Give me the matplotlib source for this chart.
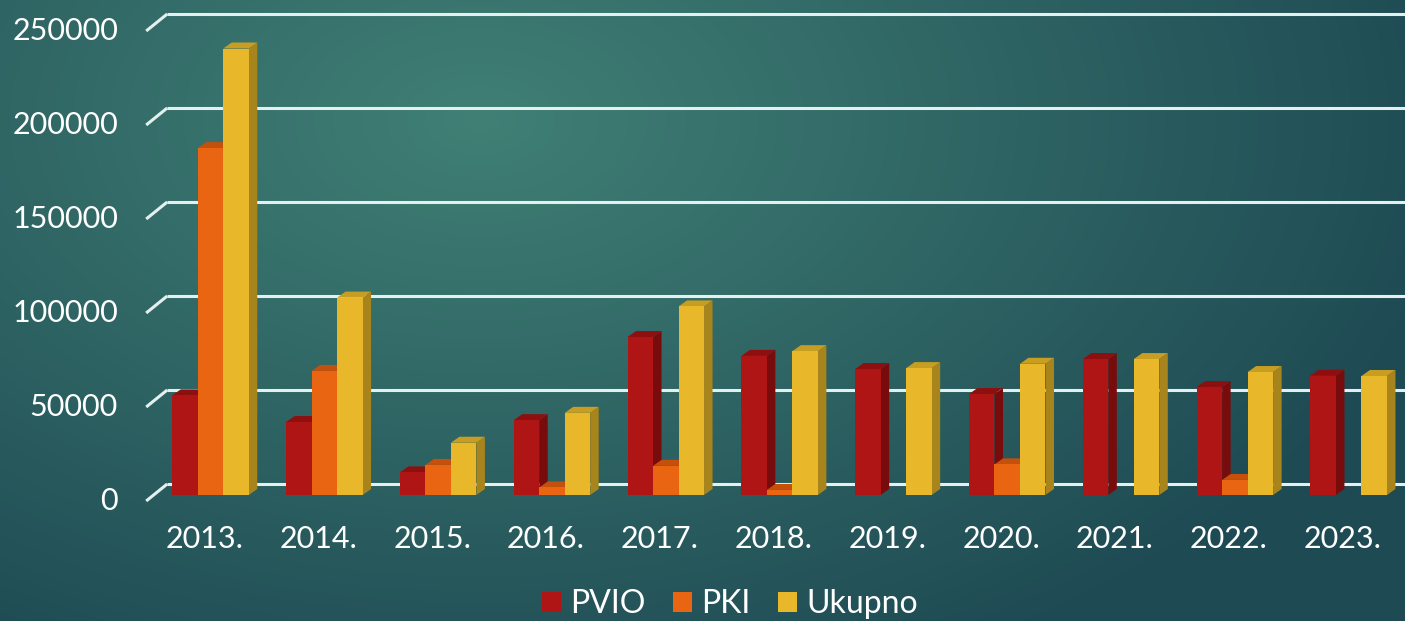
import numpy as np
import matplotlib
matplotlib.use("Agg")
import matplotlib.pyplot as plt
import matplotlib.transforms as mtransforms
from matplotlib.patches import Polygon, Patch

# ---------------- data ----------------
years = ["2013.", "2014.", "2015.", "2016.", "2017.", "2018.",
         "2019.", "2020.", "2021.", "2022.", "2023."]
pvio = [53000, 38800, 12000, 39800, 84000, 74000, 67000, 53700, 72300, 57400, 63500]
pki = [184500, 66000, 16000, 4000, 15500, 2700, 0, 16300, 0, 8000, 0]
ukupno = [237500, 105000, 27800, 43700, 100300, 76500, 67500, 69800, 72300, 65400, 63300]
series_names = ["PVIO", "PKI", "Ukupno"]
yticks = [0, 50000, 100000, 150000, 200000, 250000]

# ---------------- style ----------------
front_cols = ["#B01516", "#E96511", "#E8B72A"]
top_cols = ["#8E0F10", "#C4500C", "#C79E22"]
side_cols = ["#780C0C", "#A8440A", "#A8851C"]
txt_col = "#FFFFFF"
grid_col = "#E4F0F0"

plt.rcParams["font.family"] = ["Lato", "DejaVu Sans"]

W, H = 1405, 621
fig = plt.figure(figsize=(W / 100, H / 100), dpi=100)

# background gradient
bg = fig.add_axes([0, 0, 1, 1])
yy, xx = np.mgrid[0:H, 0:W]
d = np.sqrt(((xx - 480) / 1000.0) ** 2 + ((yy - 120) / 620.0) ** 2)
d = np.clip(d, 0, 1)
c0 = np.array([0x40, 0x80, 0x75]) / 255.0
c1 = np.array([0x1E, 0x4A, 0x53]) / 255.0
img = c0[None, None, :] * (1 - d[..., None]) + c1[None, None, :] * d[..., None]
bg.imshow(img, extent=[0, 1, 0, 1], aspect="auto", zorder=0)
bg.set_axis_off()

# main axes (bar front-face plane)
x_left_px, x_right_px = 153.6, 1405.6
y0_px, ytop_px = 495, 25
ax = fig.add_axes([x_left_px / W, (H - y0_px) / H,
                   (x_right_px - x_left_px) / W, (y0_px - ytop_px) / H])
ax.set_xlim(-0.5, 10.5)
ax.set_ylim(0, 250000)
ax.set_axis_off()
ax.patch.set_alpha(0)

ppx = (x_right_px - x_left_px) / 11.0        # pixels per x unit
ppy = (y0_px - ytop_px) / 250000.0           # pixels per y unit

# gridlines (back wall + left floor diagonal)
back_dx, back_dy = 13.6, 11.0
front_dx, front_dy = -7.4, -6.0
for v in yticks:
    xb = -0.5 + back_dx / ppx
    yb = v + back_dy / ppy
    ax.plot([xb, 11.5], [yb, yb], color=grid_col, lw=2.2, zorder=1,
            clip_on=False, solid_capstyle="butt")
    xf = -0.5 + front_dx / ppx
    yf = v + front_dy / ppy
    ax.plot([xf, xb], [yf, yb], color=grid_col, lw=2.2, zorder=1,
            clip_on=False, solid_capstyle="butt")

# 3D-looking bars
bw = 25.5 / ppx
ddx = 8.5 / ppx
ddy = 6.0 / ppy
xs = np.arange(len(years))
for si, vals in enumerate([pvio, pki, ukupno]):
    off = (si - 1) * bw
    for i, v in enumerate(vals):
        if v <= 0:
            continue
        x0 = xs[i] + off - bw / 2
        x1 = x0 + bw
        z = 3 + si * 3
        side = Polygon([(x1, 0), (x1 + ddx, ddy), (x1 + ddx, v + ddy), (x1, v)],
                       closed=True, facecolor=side_cols[si], edgecolor="none",
                       zorder=z, clip_on=False)
        top = Polygon([(x0, v), (x1, v), (x1 + ddx, v + ddy), (x0 + ddx, v + ddy)],
                      closed=True, facecolor=top_cols[si], edgecolor="none",
                      zorder=z + 1, clip_on=False)
        ax.add_patch(side)
        ax.add_patch(top)
    ax.bar(xs + off, vals, width=bw, color=front_cols[si], zorder=5 + si * 3,
           clip_on=False, linewidth=0)

# y tick labels (front plane)
ytrans = mtransforms.blended_transform_factory(fig.transFigure, ax.transData) + \
    mtransforms.ScaledTranslation(0, -6 / 100, fig.dpi_scale_trans)
for v in yticks:
    ax.text(118 / W, v, f"{v}", transform=ytrans, ha="right", va="center",
            fontsize=22, color=txt_col, clip_on=False)

# x tick labels
xtrans = mtransforms.blended_transform_factory(ax.transData, fig.transFigure) + \
    mtransforms.ScaledTranslation(-6 / 100, 0, fig.dpi_scale_trans)
for i, lab in enumerate(years):
    ax.text(xs[i], (H - 539) / H, lab, transform=xtrans, ha="center", va="center",
            fontsize=22, color=txt_col, clip_on=False)

# legend
handles = [Patch(facecolor=front_cols[i], edgecolor="none", label=series_names[i])
           for i in range(3)]
leg = fig.legend(handles=handles, loc="center", bbox_to_anchor=(730 / W, (H - 604) / H),
                 ncol=3, frameon=False, fontsize=23, handlelength=0.6,
                 handleheight=0.6, handletextpad=0.3, columnspacing=0.85,
                 borderpad=0, borderaxespad=0)
for t in leg.get_texts():
    t.set_color(txt_col)

fig.savefig("out.png", dpi=100)
